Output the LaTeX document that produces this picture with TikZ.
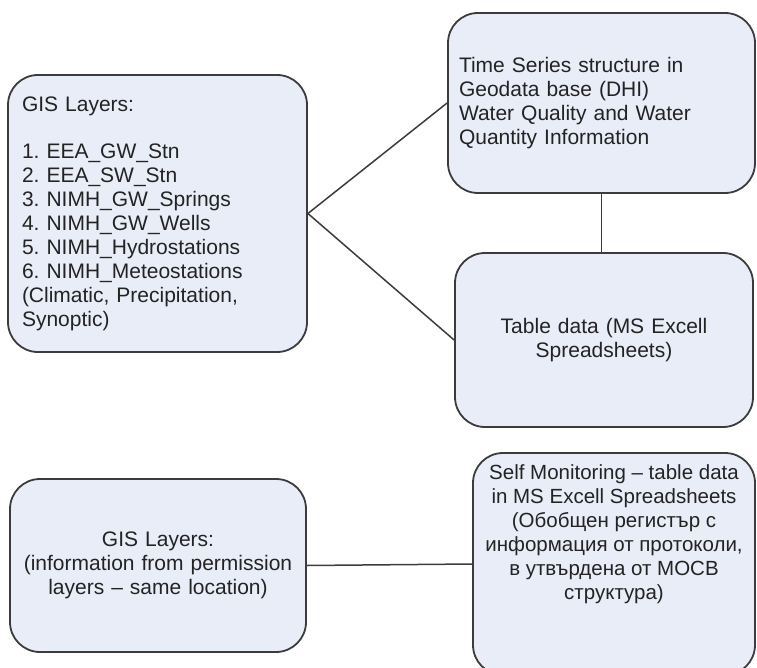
\documentclass[tikz,border=0pt]{standalone}
\usepackage{fontspec}
\setmainfont{Liberation Sans}
\frenchspacing
\definecolor{boxfill}{RGB}{233,237,248}
\definecolor{boxline}{RGB}{60,60,60}
\definecolor{txt}{RGB}{35,35,35}
\begin{document}
\begin{tikzpicture}[x=1pt,y=-1pt,
  infobox/.style={draw=boxline, line width=1.8pt, fill=boxfill, rectangle,
    rounded corners=30pt, inner ysep=0pt, text=txt,
    font=\fontsize{21}{24}\selectfont},
  boxtext/.style={inner sep=0pt, text=txt, font=\fontsize{20.5}{24}\selectfont},
  link/.style={draw=boxline, line width=1.5pt}]
  \useasboundingbox (0,0) rectangle (757,668);
  \clip (0,0) rectangle (757,668);
  \fill[white] (0,0) rectangle (757,668);

  % data sources in the upper group
  \node[infobox, inner xsep=14pt, text width=271pt, align=left,
        minimum height=277pt] (gis) at (157.5,213.5)
    {GIS Layers:\\[23pt]
     1. EEA\_GW\_Stn\\
     2. EEA\_SW\_Stn\\
     3. NIMH\_GW\_Springs\\
     4. NIMH\_GW\_Wells\\
     5. NIMH\_Hydrostations\\
     6. NIMH\_Meteostations\\
     (Climatic, Precipitation,\\
     Synoptic)};

  \node[infobox, inner xsep=11pt, text width=285pt, align=left,
        minimum height=180pt] (ts) at (601.5,103)
    {Time Series structure in\\
     Geodata base (DHI)\\
     Water Quality and Water\\
     Quantity Information};

  \node[infobox, inner xsep=8pt, text width=282pt, align=center,
        minimum height=174pt] (tab) at (604,340)
    {Table data (MS Excell\\
     Spreadsheets)};

  % self monitoring group
  \node[infobox, inner xsep=6pt, text width=284pt, align=center,
        minimum height=173pt] (perm) at (158,565.5)
    {GIS Layers:\\
     (information from permission\\
     layers -- same location)};

  % tall box, its text set near the top
  \node[infobox, inner sep=0pt, minimum width=282pt,
        minimum height=222pt] (self) at (614,564) {};
  \node[boxtext, align=center, anchor=north] (selftext) at (614,464)
    {Self Monitoring -- table data\\
     in MS Excell Spreadsheets\\
     (Обобщен регистър с\\
     информация от протоколи,\\
     в утвърдена от МОСВ\\
     структура)};

  % connectors
  \draw[link] (gis.east) -- (ts.west);
  \draw[link] (gis.east) -- (tab.west);
  \draw[link] (ts.south) -- (ts.south |- tab.north);
  \draw[link] (perm.east) -- (self.west);
\end{tikzpicture}
\end{document}
